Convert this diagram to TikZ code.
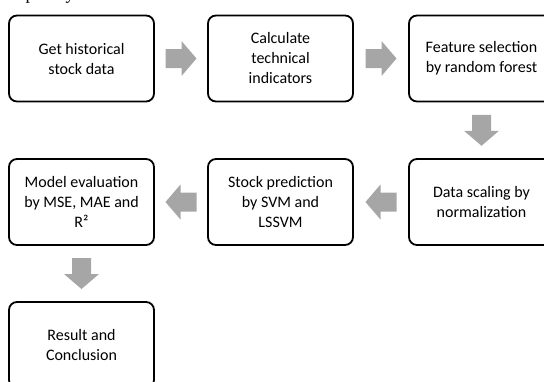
\documentclass[tikz,border=0pt]{standalone}
\usepackage{fontspec}
\setmainfont{Carlito}
\newfontfamily\captionserif{Liberation Serif}
\usetikzlibrary{calc}

\tikzset{
  stepbox/.style={draw=black, line width=1.8pt, rounded corners=8pt,
    minimum width=145pt, minimum height=86pt, align=center,
    font=\fontsize{16}{20}\selectfont, text=black, inner sep=2pt},
  blockarr/.style={fill=black!35, draw=none},
  capline/.style={font=\captionserif\fontsize{18}{20}\selectfont, anchor=base, inner sep=0pt}
}

% block arrow centred on a coordinate, pointing along the given angle
\newcommand\blockarrow[2]{%
  \fill[blockarr, shift={(#1)}, rotate=#2]
    (-15.5,-9.5) -- (0.5,-9.5) -- (0.5,-17.5) -- (15.5,0) --
    (0.5,17.5) -- (0.5,9.5) -- (-15.5,9.5) -- cycle;}

\begin{document}
\begin{tikzpicture}[x=1pt, y=-1pt]
  \useasboundingbox (0,0) rectangle (544,381);

  % descenders of the text line above the chart
  \node[capline] (capp) at (30,-0.8) {p};
  \node[capline] (capy) at (70,-0.8) {y};

  % process steps
  \node[stepbox] (b1) at (81.5,58.5)  {Get historical\\stock data};
  \node[stepbox] (b2) at (280.5,58.5) {Calculate\\technical\\indicators};
  \node[stepbox] (b3) at (481.5,58.5) {Feature selection\\by random forest};
  \node[stepbox] (b6) at (481.5,202)  {Data scaling by\\normalization};
  \node[stepbox] (b5) at (280.5,202)  {Stock prediction\\by SVM and\\LSSVM};
  \node[stepbox] (b4) at (81.5,202)   {Model evaluation\\by MSE, MAE and\\R²};
  \node[stepbox] (b7) at (81.5,345)   {Result and\\Conclusion};

  % arrow positions between the steps
  \coordinate (a12) at ($(b1.east)!0.5!(b2.west)$);
  \coordinate (a23) at ($(b2.east)!0.5!(b3.west)$);
  \coordinate (a36) at ($(b3.south)!0.5!(b6.north)$);
  \coordinate (a65) at ($(b6.west)!0.5!(b5.east)$);
  \coordinate (a54) at ($(b5.west)!0.5!(b4.east)$);
  \coordinate (a47) at ($(b4.south)!0.5!(b7.north)$);

  \blockarrow{a12}{0}
  \blockarrow{a23}{0}
  \blockarrow{a36}{-90}
  \blockarrow{a65}{180}
  \blockarrow{a54}{180}
  \blockarrow{a47}{-90}
\end{tikzpicture}
\end{document}
